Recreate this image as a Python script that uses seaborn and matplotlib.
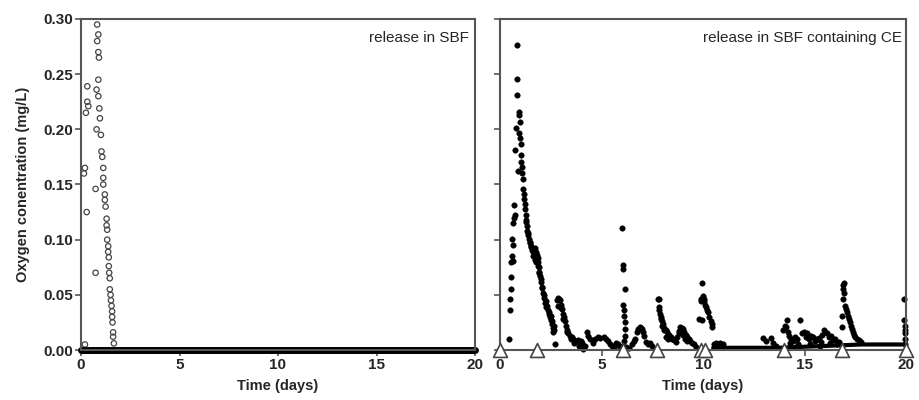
import numpy as np
import pandas as pd
import matplotlib
matplotlib.use("Agg")
import matplotlib.pyplot as plt
import seaborn as sns

# ---- data ----
# left panel: release in SBF (open circles)
sbf_t = [0.20, 0.32, 0.32, 0.37, 0.25, 0.20, 0.15, 0.29, 0.74, 0.74,
         0.82, 0.88, 0.82, 0.88, 0.91, 0.88, 0.79, 0.88, 0.93, 0.96,
         0.79, 1.01, 1.04, 1.08, 1.13, 1.13, 1.13, 1.21, 1.21, 1.25,
         1.30, 1.30, 1.33, 1.33, 1.38, 1.38, 1.41, 1.41, 1.43, 1.46,
         1.46, 1.50, 1.52, 1.55, 1.58, 1.58, 1.60, 1.63, 1.63, 1.67]
sbf_y = [0.005, 0.239, 0.225, 0.221, 0.215, 0.165, 0.160, 0.125, 0.070, 0.146,
         0.295, 0.286, 0.280, 0.270, 0.265, 0.245, 0.236, 0.230, 0.219, 0.210,
         0.200, 0.195, 0.180, 0.175, 0.165, 0.156, 0.150, 0.141, 0.136, 0.130,
         0.119, 0.113, 0.109, 0.100, 0.094, 0.089, 0.084, 0.076, 0.070, 0.065,
         0.055, 0.050, 0.045, 0.040, 0.035, 0.030, 0.025, 0.016, 0.012, 0.006]
# merged zero readings in SBF (dense markers on the baseline)
sbf_zero_t = [0.0, 0.8, np.nan, 1.68, 20.0]
sbf_zero_y = [0.0, 0.0, np.nan, 0.0, 0.0]

# right panel: release in SBF containing CE (filled dots)
ce_t = [0.46, 0.49, 0.50, 0.52, 0.55, 0.56, 0.60, 0.63, 0.60, 0.66, 0.68, 0.74, 0.70, 0.66,
        0.86, 0.86, 0.82, 0.94, 0.92, 0.99, 0.79, 0.74, 0.96, 0.99, 1.02, 1.02, 0.90, 1.05,
        1.07, 1.10, 1.12, 1.15, 1.17, 1.19, 1.21, 1.23, 1.26, 1.28, 1.31, 1.35, 1.40, 1.45,
        1.48, 1.51, 1.56, 1.61, 1.67, 1.73, 1.77, 1.81, 1.85, 1.89, 1.92, 1.94, 1.97, 2.01,
        2.05, 2.11, 2.16, 2.22, 2.28, 2.34, 2.39, 2.44, 2.50, 2.55, 2.59, 2.63, 2.72,
        1.30, 1.38, 1.46, 1.55, 1.63, 1.70, 1.78, 1.86, 1.92, 2.00, 2.08, 2.17, 2.25, 2.33,
        2.42, 2.50, 2.58, 2.65, 2.68,
        2.80, 2.85, 2.90, 2.96, 3.00, 3.05, 3.10, 3.16, 3.21, 3.26, 3.32, 3.37, 3.45, 3.54,
        3.62, 3.75, 3.85, 4.00, 4.10, 4.20, 4.28, 4.35, 4.45, 4.60, 4.70, 4.85, 4.95, 5.10,
        5.20, 5.30, 5.40, 5.50, 5.60, 5.70, 5.80, 5.90,
        2.88, 3.02, 3.12, 3.30, 3.48, 3.65, 3.90, 4.05,
        6.01, 6.06, 6.08, 6.14, 6.06, 6.10, 6.12, 6.14, 6.14, 6.16, 6.12, 6.06, 6.20, 6.35, 6.50,
        6.60, 6.67, 6.75, 6.82, 6.88, 6.95, 7.00, 7.05, 7.10, 7.20, 7.30, 7.40, 7.50,
        7.78, 7.82, 7.82, 7.87, 7.94, 8.00, 8.04, 8.10, 8.17, 8.24, 8.32, 8.40, 8.48, 8.57,
        8.65, 8.72, 8.80, 8.89, 8.95, 9.02, 9.08, 9.14, 9.22, 9.30, 9.38, 9.47, 9.55, 9.65,
        7.85, 7.92, 8.00, 8.08, 8.20, 8.30, 8.82, 8.92, 9.00, 9.10, 9.20,
        9.80, 9.96, 9.88, 9.96, 10.00, 9.92, 10.03, 10.06, 10.10, 10.15, 10.20, 10.25, 10.30,
        10.38, 10.45, 10.45, 10.54, 10.62, 10.70, 10.85, 11.00,
        12.95, 13.10, 13.33, 13.45, 13.60,
        13.95, 14.05, 14.12, 14.10, 14.18, 14.25, 14.35, 14.45, 14.55, 14.65, 14.80, 14.90,
        14.98, 15.05, 15.10, 15.20, 15.30, 15.40, 15.50, 15.60, 15.70, 15.80, 15.88, 15.96,
        16.03, 16.10, 16.20, 16.30, 16.40, 16.50, 16.60, 16.70, 14.30, 14.70, 15.25, 15.75, 16.25,
        16.95, 16.92, 16.90, 16.92, 16.87, 16.87, 16.97, 17.00, 17.05, 17.10, 17.15, 17.20,
        17.25, 17.28, 17.35, 17.40, 17.45, 17.50, 17.60, 17.70, 17.80,
        19.92, 19.92, 19.93, 19.94, 19.95, 19.96, 19.97]
ce_y = [0.010, 0.036, 0.046, 0.055, 0.066, 0.080, 0.085, 0.095, 0.101, 0.115, 0.120, 0.122, 0.131, 0.081,
        0.276, 0.246, 0.231, 0.216, 0.213, 0.207, 0.201, 0.181, 0.197, 0.192, 0.187, 0.177, 0.162, 0.170,
        0.166, 0.160, 0.155, 0.146, 0.141, 0.137, 0.132, 0.128, 0.122, 0.116, 0.112, 0.108, 0.104, 0.101,
        0.097, 0.093, 0.091, 0.089, 0.090, 0.092, 0.089, 0.086, 0.083, 0.080, 0.075, 0.071, 0.067, 0.062,
        0.057, 0.052, 0.047, 0.043, 0.039, 0.036, 0.033, 0.030, 0.027, 0.024, 0.020, 0.016, 0.005,
        0.118, 0.106, 0.098, 0.094, 0.085, 0.082, 0.080, 0.076, 0.070, 0.064, 0.056, 0.050, 0.044, 0.040,
        0.034, 0.031, 0.026, 0.022, 0.018,
        0.045, 0.047, 0.046, 0.045, 0.041, 0.037, 0.033, 0.030, 0.026, 0.022, 0.018, 0.015, 0.013, 0.012,
        0.010, 0.008, 0.009, 0.008, 0.001, 0.004, 0.016, 0.013, 0.010, 0.006, 0.010, 0.012, 0.011, 0.0115,
        0.010, 0.008, 0.005, 0.004, 0.003, 0.006, 0.005, 0.003,
        0.040, 0.038, 0.028, 0.016, 0.010, 0.006, 0.004, 0.006,
        0.111, 0.077, 0.073, 0.055, 0.041, 0.036, 0.031, 0.025, 0.019, 0.013, 0.008, 0.004, 0.003, 0.002, 0.005,
        0.008, 0.010, 0.016, 0.019, 0.021, 0.020, 0.019, 0.016, 0.013, 0.007, 0.005, 0.006, 0.004,
        0.046, 0.046, 0.039, 0.033, 0.028, 0.026, 0.024, 0.020, 0.018, 0.016, 0.014, 0.012, 0.010, 0.009,
        0.007, 0.012, 0.017, 0.021, 0.020, 0.019, 0.016, 0.014, 0.012, 0.010, 0.008, 0.006, 0.005, 0.003,
        0.036, 0.030, 0.022, 0.018, 0.012, 0.010, 0.015, 0.017, 0.014, 0.010, 0.008,
        0.028, 0.027, 0.046, 0.061, 0.049, 0.044, 0.046, 0.044, 0.041, 0.039, 0.036, 0.034, 0.030,
        0.026, 0.024, 0.021, 0.005, 0.006, 0.004, 0.006, 0.005,
        0.011, 0.008, 0.011, 0.006, 0.004,
        0.018, 0.022, 0.027, 0.021, 0.016, 0.013, 0.010, 0.008, 0.012, 0.010, 0.027, 0.015,
        0.016, 0.012, 0.015, 0.010, 0.013, 0.012, 0.008, 0.010, 0.011, 0.007, 0.014, 0.018,
        0.016, 0.015, 0.012, 0.013, 0.009, 0.010, 0.005, 0.007, 0.006, 0.005, 0.005, 0.004, 0.006,
        0.061, 0.059, 0.055, 0.046, 0.031, 0.021, 0.052, 0.040, 0.037, 0.034, 0.031, 0.028,
        0.025, 0.022, 0.019, 0.016, 0.014, 0.012, 0.010, 0.009, 0.007,
        0.046, 0.027, 0.022, 0.018, 0.015, 0.010, 0.005]
# flat low stretches where the dots merge into a band
ce_flat_t = [10.5, 13.7, np.nan, 17.8, 19.9]
ce_flat_y = [0.002, 0.002, np.nan, 0.005, 0.005]
# days when CE was added (open triangles)
ce_add_t = [0.0, 1.83, 6.07, 7.75, 9.9, 10.1, 13.98, 16.85, 20.0]

sns.set_style("ticks")
plt.rcParams['font.family'] = ['Liberation Sans', 'DejaVu Sans']
SPINE = '#555555'

fig = plt.figure(figsize=(9.19, 4.0), dpi=100)
ax1 = fig.add_axes([81 / 919, 50 / 400, 394 / 919, 331 / 400])
ax2 = fig.add_axes([500 / 919, 50 / 400, 406 / 919, 331 / 400])

# left panel
sns.lineplot(x=sbf_zero_t, y=sbf_zero_y, ax=ax1, color='black', lw=5,
             solid_capstyle='round', clip_on=False, sort=False, estimator=None)
sns.scatterplot(x=sbf_t, y=sbf_y, ax=ax1, marker='o', s=15, facecolor='none',
                edgecolor='#444444', linewidth=0.9, clip_on=False)

# right panel
sns.lineplot(x=ce_flat_t, y=ce_flat_y, ax=ax2, color='black', lw=3,
             sort=False, estimator=None)
sns.scatterplot(x=ce_t, y=ce_y, ax=ax2, marker='o', s=16, color='black',
                edgecolor='black', linewidth=0.3, clip_on=False)
sns.scatterplot(x=ce_add_t, y=[0.0] * len(ce_add_t), ax=ax2, marker='^', s=100,
                facecolor='white', edgecolor='#444444', linewidth=1.2,
                clip_on=False, zorder=5)

for ax in (ax1, ax2):
    ax.set_xlim(0, 20)
    ax.set_ylim(0, 0.30)
    ax.set_xticks([0, 5, 10, 15, 20])
    ax.set_yticks([0, 0.05, 0.10, 0.15, 0.20, 0.25, 0.30])
    for sp in ax.spines.values():
        sp.set_visible(True)
        sp.set_color(SPINE)
        sp.set_linewidth(1.5)
    ax.tick_params(direction='out', length=4, width=1.2, color=SPINE,
                   labelsize=11, pad=2)
    for lab in ax.get_xticklabels() + ax.get_yticklabels():
        lab.set_fontweight('bold')
    ax.set_xlabel('Time (days)', fontsize=10.5, fontweight='bold', labelpad=5)

ax1.yaxis.set_major_formatter(matplotlib.ticker.FormatStrFormatter('%.2f'))
ax1.set_ylabel('Oxygen conentration (mg/L)', fontsize=10.5, fontweight='bold', labelpad=9)
ax2.set_yticklabels([])
ax2.set_ylabel('')

ax1.text(0.985, 0.965, 'release in SBF', transform=ax1.transAxes,
         ha='right', va='top', fontsize=11)
ax2.text(0.99, 0.965, 'release in SBF containing CE', transform=ax2.transAxes,
         ha='right', va='top', fontsize=11)

fig.savefig('out.png', dpi=100)
